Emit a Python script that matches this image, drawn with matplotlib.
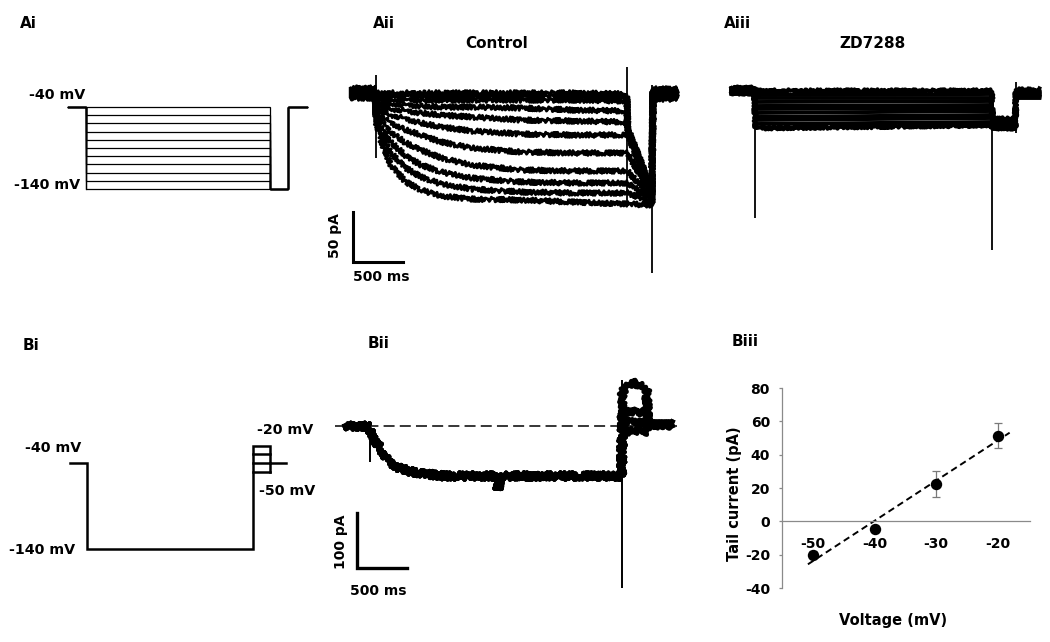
import numpy as np
import matplotlib.pyplot as plt

plt.rcParams['font.family'] = 'DejaVu Sans'
plt.rcParams['font.weight'] = 'bold'
plt.rcParams['axes.unicode_minus'] = False

W, H = 1050, 642

# voltage protocols (ms, mV)
proto_t = [0, 250, 2750, 3000, 3250]
hold_mv = -40
ai_steps = [-40, -50, -60, -70, -80, -90, -100, -110, -120, -130, -140]
bi_step = -140
bi_tails = [-20, -30, -40, -50]

# Aii control currents (pA), sampled during the step
aii_t = [255, 300, 400, 550, 700, 900, 1200, 1700, 2200, 2745]
aii_step = [
    [1, 1, 1, 1, 1, 1, 1, 1, 1, 0],
    [-2, -2, -2, -2, -2, -2, -2, -2, -2, -3],
    [-5, -5, -6, -6, -6, -6, -6, -6, -6, -7],
    [-8, -9, -10, -11, -12, -13, -13, -14, -16, -17],
    [-11, -13, -15, -17, -19, -21, -23, -26, -27, -28],
    [-14, -17, -21, -25, -29, -33, -37, -40, -41, -41],
    [-17, -22, -29, -36, -41, -48, -54, -58, -59, -59],
    [-20, -27, -38, -49, -56, -64, -71, -76, -77, -77],
    [-23, -33, -48, -62, -71, -78, -84, -88, -89, -89],
    [-26, -39, -59, -74, -83, -90, -95, -98, -99, -99],
    [-29, -46, -71, -88, -96, -102, -105, -106, -108, -110],
]
aii_tail_start = [-34, -35, -36, -37, -38, -41, -59, -77, -89, -99, -110]
aii_tail_end = [-96, -97, -98, -99, -100, -101, -103, -105, -107, -109, -111]
aii_hold = [6, 4, 2, 0, -2, -4, 5, 3, 1, -1, -3]
aii_post = [5, 3, 1, -1, -3, -5, 4, 2, 0, -2, -4]
aii_spike_t = [250, 2750, 3000]
aii_spike_hi = [19, 27, 9]
aii_spike_lo = [-64, -110, -179]

# Aiii ZD7288 currents (pA)
aiii_start = [0, -4, -7, -11, -15, -18, -22, -26, -29, -33, -37]
aiii_end = [0, -3, -7, -10, -14, -17, -20, -24, -27, -31, -34]
aiii_hold = [3, 1, -1, -3, 2, 0, -2, 3, 1, -1, -2]
aiii_tail = [-28, -30, -32, -34, -36, -38, -29, -31, -33, -35, -37]
aiii_post = [1, -1, -3, -5, -7, 0, -2, -4, -6, -1, -3]
aiii_spike_t = [250, 2750, 3000]
aiii_spike_hi = [3, -30, 9]
aiii_spike_lo = [-127, -159, -42]

# Bii currents (pA)
bii_t = [255, 300, 350, 420, 520, 680, 850, 1000, 1500, 1520, 1540, 2000, 2745]
bii_step = [-11, -25, -40, -62, -75, -84, -88, -91, -91, -115, -91, -91, -91]
bii_tail_t = [2755, 2830, 2900, 2960, 2995]
bii_tail_pA = [
    [62, 75, 78, 69, 66],
    [25, 27, 25, 24, 24],
    [7, 8, 7, 7, 7],
    [-10, -9, -10, -10, -10],
]
bii_hold = 0
bii_post = 2
bii_spike_t = [250, 2750]
bii_spike_hi = [0, 84]
bii_spike_lo = [-65, -295]

# Biii tail current vs voltage
volt = [-50, -40, -30, -20]
tail_mean = [-20, -4.5, 22.5, 51.5]
tail_sem = [2, 1.5, 8, 7.5]
fit_span = [-50.8, -18.1]

fig = plt.figure(figsize=(W / 100, H / 100), dpi=100)


def panel(x0, x1, y0, y1, xlim, ytop, ybot):
    # pixel box (x0..x1, y0..y1 from top) mapped onto data limits
    ax = fig.add_axes([x0 / W, 1 - y1 / H, (x1 - x0) / W, (y1 - y0) / H])
    ax.set_xlim(xlim)
    ax.set_ylim(ybot, ytop)
    ax.set_axis_off()
    return ax


def trace(ax, t, y, lw=2.8, sketch=None):
    ln, = ax.plot(t, y, color='k', lw=lw, clip_on=False, solid_joinstyle='round')
    if sketch:
        # recording noise look
        ln.set_sketch_params(*sketch)


def label(px, py, s, **kw):
    fig.text(px / W, 1 - py / H, s, fontsize=kw.pop('fontsize', 11), **kw)


# ---------------- Ai ----------------
ax = panel(86, 270, 107, 189, (250, 2750), -40, -140)
for v in ai_steps:
    ax.plot([proto_t[0], proto_t[1], proto_t[1], proto_t[2], proto_t[2], proto_t[3], proto_t[3], proto_t[4]],
            [hold_mv, hold_mv, v, v, -140, -140, hold_mv, hold_mv],
            color='k', lw=0.9, clip_on=False, solid_joinstyle='miter')
ax.plot([proto_t[1], proto_t[1]], [hold_mv, -140], color='k', lw=0.9, clip_on=False)
ax.text(236, -25.5, '-40 mV', ha='right', va='center', fontsize=10.3)
ax.text(168, -135, '-140 mV', ha='right', va='center', fontsize=10.3)
label(20, 23, 'Ai', va='center')

# ---------------- Aii ----------------
ax = panel(375.7, 627.3, 94, 194, (250, 2750), 0, -100)
for i in range(len(aii_step)):
    t = [proto_t[0], 245] + aii_t + [2755, 2995, 3005, proto_t[4]]
    y = [aii_hold[i], aii_hold[i]] + aii_step[i] + [aii_tail_start[i], aii_tail_end[i], aii_post[i], aii_post[i]]
    trace(ax, t, y, lw=2.1, sketch=(2.4, 3.0, 2.0))
ax.vlines(aii_spike_t, aii_spike_lo, aii_spike_hi, color='k', lw=1.3, clip_on=False)
ax.plot([21, 21, 521], [-118, -168, -168], color='k', lw=2.2, clip_on=False, solid_joinstyle='miter')
ax.text(-155, -142, '50 pA', rotation=90, ha='center', va='center', fontsize=10)
ax.text(21, -183, '500 ms', ha='left', va='center', fontsize=10)
label(373, 23, 'Aii', va='center')
label(497, 44, 'Control', ha='center', va='center')

# ---------------- Aiii ----------------
ax = panel(755, 992, 91, 191, (250, 2750), 0, -100)
n3 = len(aiii_start)
for i in range(n3):
    t = [proto_t[0], 245, 255, 2745, 2755, 2995, 3005, proto_t[4]]
    y = [aiii_hold[i], aiii_hold[i], aiii_start[i], aiii_end[i], aiii_tail[i], aiii_tail[i],
         aiii_post[i], aiii_post[i]]
    edge = i in (0, n3 - 1)
    trace(ax, t, y, lw=2.8, sketch=(1.8, 3.0, 2.0) if edge else None)
ax.vlines(aiii_spike_t, aiii_spike_lo, aiii_spike_hi, color='k', lw=1.3, clip_on=False)
label(724, 23, 'Aiii', va='center')
label(873, 44, 'ZD7288', ha='center', va='center')

# ---------------- Bi ----------------
ax = panel(87, 253, 463, 549, (250, 2750), -40, -140)
kw = dict(color='k', lw=1.8, clip_on=False, solid_joinstyle='miter')
ax.plot([proto_t[0], proto_t[1], proto_t[1], proto_t[2], proto_t[2], proto_t[3], proto_t[3]],
        [hold_mv, hold_mv, bi_step, bi_step, max(bi_tails), max(bi_tails), min(bi_tails)], **kw)
for v in bi_tails[1:]:
    ax.plot([proto_t[2], proto_t[3]], [v, v], **kw)
ax.plot([proto_t[3], proto_t[4]], [hold_mv, hold_mv], **kw)
ax.text(-262, -22.6, '-40 mV', ha='center', va='center', fontsize=10.3)
ax.text(69, -141, '-140 mV', ha='right', va='center', fontsize=10.3)
ax.text(3232, -1.6, '-20 mV', ha='center', va='center', fontsize=10.3)
ax.text(3262, -72.6, '-50 mV', ha='center', va='center', fontsize=10.3)
label(23, 346, 'Bi', va='center')

# ---------------- Bii ----------------
ax = panel(370, 622, 426, 481, (250, 2750), 0, -100)
ax.plot([-97, 3296], [0, 0], color='k', lw=1.1, ls=(0, (7.2, 3.4)), clip_on=False)
for tail in bii_tail_pA:
    t = [proto_t[0], 245] + bii_t + bii_tail_t + [3005, proto_t[4]]
    y = [bii_hold, bii_hold] + bii_step + tail + [bii_post, bii_post]
    trace(ax, t, y, lw=3.4, sketch=(3.4, 3.0, 2.0))
ax.vlines(bii_spike_t, bii_spike_lo, bii_spike_hi, color='k', lw=1.4, clip_on=False)
ax.plot([121, 121, 621], [-158, -258, -258], color='k', lw=2.4, clip_on=False, solid_joinstyle='miter')
ax.text(-35, -211, '100 pA', rotation=90, ha='center', va='center', fontsize=10)
ax.text(335, -300, '500 ms', ha='center', va='center', fontsize=10)
label(368, 344, 'Bii', va='center')

# ---------------- Biii ----------------
gray = '#8a8a8a'
ax = fig.add_axes([781.7 / W, 1 - 588 / H, (1030 - 781.7) / W, (588 - 388) / H])
ax.set_xlim(-55.05, -14.8)
ax.set_ylim(-40, 80)
for s in ['top', 'right']:
    ax.spines[s].set_visible(False)
ax.spines['bottom'].set_position(('data', 0))
for s in ['left', 'bottom']:
    ax.spines[s].set_color(gray)
    ax.spines[s].set_linewidth(0.9)
ax.set_yticks(range(-40, 81, 20))
ax.set_xticks(volt)
ax.tick_params(axis='y', length=2.5, width=0.9, color=gray, pad=6, labelsize=10)
ax.tick_params(axis='x', length=0, pad=11, labelsize=10)
slope, icpt = np.polyfit(volt, tail_mean, 1)
fx = np.array(fit_span)
ax.plot(fx, slope * fx + icpt, color='k', lw=1.4, ls=(0, (3.4, 2.1)), clip_on=False)
ax.errorbar(volt, tail_mean, yerr=tail_sem, fmt='none', ecolor='#7a7a7a', elinewidth=0.9, capsize=3, capthick=0.9)
ax.plot(volt, tail_mean, 'o', color='k', ms=7.2, clip_on=False)
label(734, 494, 'Tail current (pA)', rotation=90, ha='center', va='center', fontsize=10.5)
label(893, 620, 'Voltage (mV)', ha='center', va='center', fontsize=10.5)
label(732, 341, 'Biii', va='center')

fig.savefig('out.png', dpi=100)
